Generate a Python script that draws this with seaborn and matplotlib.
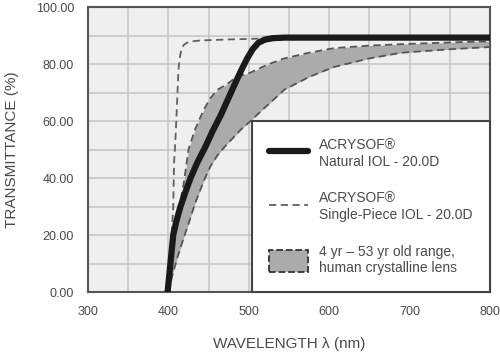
import numpy as np
import pandas as pd
import matplotlib
matplotlib.use("Agg")
import matplotlib.pyplot as plt
from matplotlib.lines import Line2D
from matplotlib.patches import Patch
from matplotlib.ticker import MultipleLocator, FormatStrFormatter
import seaborn as sns

# AcrySof Natural IOL (thick black)
natural_wl = [399, 402.5, 406, 410, 415, 421, 427.5, 436, 446, 455, 465, 473, 481,
              490, 498, 505, 512, 520, 530, 545, 600, 700, 800]
natural_t = [0, 10, 20, 25, 30, 35, 40, 45.5, 51, 56.5, 62, 67, 72,
             77.5, 82, 85.3, 87.5, 88.6, 89.1, 89.3, 89.3, 89.3, 89.3]

# AcrySof Single-Piece IOL (dashed)
single_wl = [398, 402, 405, 406, 407, 409, 411, 412.5, 414, 416, 419, 423, 430, 440, 470, 520, 600, 800]
single_t = [0, 12, 25, 30, 45, 55, 68, 78, 82, 85, 86.7, 87.5, 88, 88.3, 88.6, 89, 89, 89]

# human crystalline lens range, 4 yr - 53 yr
band_wl = [400, 405, 411, 419, 425, 433, 444, 452, 461, 473, 480, 490, 502, 519,
           525, 544, 575, 606, 650, 690, 750, 800]
band_upper = [0, 15, 26, 38, 50, 57, 64, 68, 71, 73, 74.5, 76, 77, 79.3,
              80, 82, 84, 85.6, 86.5, 87, 87.6, 88]
band_lower = [0, 6, 12, 19, 24, 31, 39, 44, 48, 52, 54, 57, 60, 64.5,
              66, 71, 75.5, 79, 82, 84, 85.2, 86]

text_col = "#4a4a4a"
dash = (0, (4, 2.5))

sns.set_style("white")
plt.rcParams["font.family"] = ["Liberation Sans Narrow", "Liberation Sans", "DejaVu Sans"]

fig = plt.figure(figsize=(5, 3.55), dpi=100)
ax = fig.add_axes([0.176, 0.177, 0.804, 0.803])
ax.set_facecolor("#efefef")

# band
ax.fill_between(band_wl, band_lower, band_upper, color="#ababab", lw=0, zorder=2)
sns.lineplot(x=band_wl, y=band_upper, ax=ax, color="#555555", lw=1.3,
             linestyle=dash, zorder=3)
sns.lineplot(x=band_wl, y=band_lower, ax=ax, color="#555555", lw=1.3,
             linestyle=dash, zorder=3)

sns.lineplot(x=single_wl, y=single_t, ax=ax, color="#606060", lw=1.3,
             linestyle=dash, zorder=4)
sns.lineplot(x=natural_wl, y=natural_t, ax=ax, color="#1a1a1a", lw=4.5,
             zorder=5, solid_capstyle="butt")

ax.set_xlim(300, 800)
ax.set_ylim(0, 100)
ax.xaxis.set_major_locator(MultipleLocator(100))
ax.xaxis.set_minor_locator(MultipleLocator(50))
ax.yaxis.set_major_locator(MultipleLocator(20))
ax.yaxis.set_minor_locator(MultipleLocator(10))
ax.yaxis.set_major_formatter(FormatStrFormatter("%.2f"))
ax.grid(True, which="both", color="#c4c4c4", lw=1.1, zorder=1)
ax.set_axisbelow(True)
ax.tick_params(which="both", length=0, labelsize=9, colors=text_col, pad=10)
for s in ax.spines.values():
    s.set_color("#555555")
    s.set_linewidth(1.5)

ax.set_xlabel("WAVELENGTH λ (nm)", fontsize=11, color=text_col, labelpad=14)
ax.set_ylabel("TRANSMITTANCE (%)", fontsize=11, color=text_col, labelpad=12)

handles = [
    Line2D([0], [0], color="#1a1a1a", lw=4.5),
    Line2D([0], [0], color="#606060", lw=1.3, linestyle=dash),
    Patch(facecolor="#ababab", edgecolor="#333333", linestyle="--", lw=1.3),
]
labels = [
    "ACRYSOF®\nNatural IOL - 20.0D",
    "ACRYSOF®\nSingle-Piece IOL - 20.0D",
    "4 yr – 53 yr old range,\nhuman crystalline lens",
]
leg = ax.legend(handles, labels, loc="lower right", bbox_to_anchor=(1, 0),
                borderaxespad=0, fontsize=10, handlelength=2.8, handleheight=2.0,
                labelspacing=1.65, borderpad=1.25, handletextpad=0.8,
                fancybox=False, framealpha=1, labelcolor=text_col)
leg.get_frame().set_edgecolor("#444444")
leg.get_frame().set_linewidth(1.5)
leg.set_zorder(10)

fig.savefig("out.png", dpi=100)
